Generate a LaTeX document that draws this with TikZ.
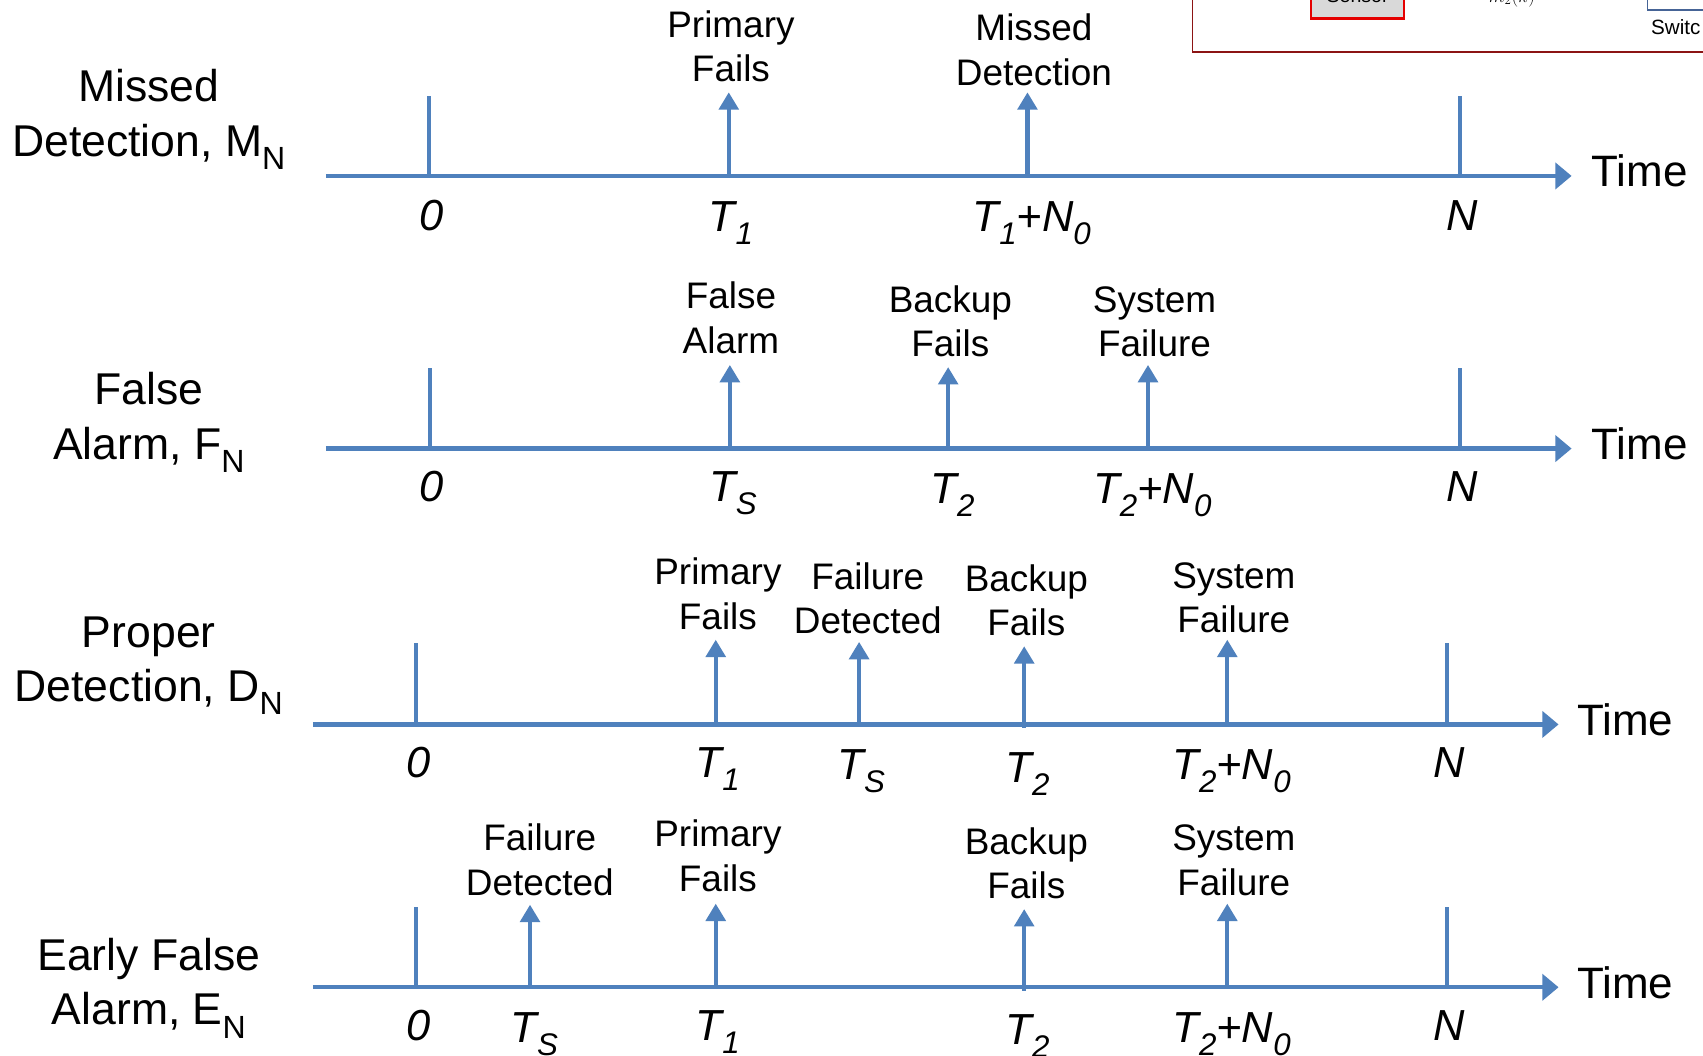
\documentclass[tikz,border=0pt]{standalone}
\usepackage{fontspec}
\setmainfont{Liberation Sans}
\usetikzlibrary{arrows.meta}
\definecolor{ax}{RGB}{79,129,189}
\definecolor{frame}{RGB}{140,20,20}
\definecolor{boxblue}{RGB}{70,100,150}
\newcommand\sbs[1]{\raisebox{-0.3em}{\scalebox{0.72}{#1}}}
\begin{document}
\begin{tikzpicture}[x=1pt,y=-1pt,
  axisline/.style={draw=ax, line width=4pt, -{Triangle[length=15pt,width=24pt]}},
  tickline/.style={draw=ax, line width=4pt},
  evt/.style={draw=ax, line width=3.8pt, -{Triangle[length=16pt,width=18pt]}},
  evlab/.style={align=center, font=\fontsize{34}{41}\selectfont, inner sep=0, anchor=south},
  tlab/.style={font=\fontsize{40}{48}\selectfont\itshape, inner sep=0, anchor=base},
  rowlab/.style={align=center, font=\fontsize{41}{50}\selectfont, inner sep=0},
  timelab/.style={font=\fontsize{40.5}{48}\selectfont, inner sep=0, anchor=base west}]
\clip (0,0) rectangle (1568,972);
\fill[white] (0,0) rectangle (1568,972);

% fragment of another figure, top right
\draw[draw=frame, line width=1.5pt] (1098,-20) -- (1098,48) -- (1600,48);
\draw[draw=red!90!black, fill=gray!30, line width=2pt] (1207,-40) rectangle (1293,17);
\node[font=\fontsize{18}{20}\selectfont, inner sep=0, anchor=base] (sens) at (1250,2.5) {Sensor};
\node[font=\fontsize{18}{20}\selectfont, inner sep=0, anchor=base] (mk) at (1392,2) {$m_2(k)$};
\draw[draw=boxblue, line width=1.5pt] (1517,-20) -- (1517,9) -- (1600,9);
\node[font=\fontsize{19}{20}\selectfont, inner sep=0, anchor=base west] (sw) at (1520,32) {Switc};

% ---------- Row 1: Missed Detection ----------
\node[rowlab] (r1) at (137,110) {Missed\\Detection, M\sbs{N}};
\coordinate (a1s) at (300,162); \coordinate (a1e) at (1447,162);
\draw[axisline] (a1s) -- (a1e);
\coordinate (r1z) at (395,162); \coordinate (r1zt) at (395,88);
\draw[tickline] (r1z) -- (r1zt);
\coordinate (r1n) at (1344,162); \coordinate (r1nt) at (1344,88);
\draw[tickline] (r1n) -- (r1nt);
\coordinate (r1a) at (671,162); \coordinate (r1at) at (671,85);
\draw[evt] (r1a) -- (r1at);
\coordinate (r1b) at (946,162); \coordinate (r1bt) at (946,85);
\draw[evt] (r1b) -- (r1bt);
\node[evlab] (e11) at (673,76) {Primary\\Fails};
\node[evlab] (e12) at (952,79) {Missed\\Detection};
\node[tlab] (l10) at (397,212) {0};
\node[tlab] (l11) at (673,213) {T\sbs{1}};
\node[tlab] (l12) at (950,213) {T\sbs{1}+N\sbs{0}};
\node[tlab] (l13) at (1346,212) {N};
\node[timelab] (t1) at (1465,172) {Time};

% ---------- Row 2: False Alarm ----------
\node[rowlab] (r2) at (137,389) {False\\Alarm, F\sbs{N}};
\coordinate (a2s) at (300,413); \coordinate (a2e) at (1447,413);
\draw[axisline] (a2s) -- (a2e);
\coordinate (r2z) at (396,413); \coordinate (r2zt) at (396,339);
\draw[tickline] (r2z) -- (r2zt);
\coordinate (r2n) at (1344,413); \coordinate (r2nt) at (1344,339);
\draw[tickline] (r2n) -- (r2nt);
\coordinate (r2a) at (672,413); \coordinate (r2at) at (672,336);
\draw[evt] (r2a) -- (r2at);
\coordinate (r2b) at (873,413); \coordinate (r2bt) at (873,338);
\draw[evt] (r2b) -- (r2bt);
\coordinate (r2c) at (1057,413); \coordinate (r2ct) at (1057,336);
\draw[evt] (r2c) -- (r2ct);
\node[evlab] (e21) at (673,326) {False\\Alarm};
\node[evlab] (e22) at (875,329) {Backup\\Fails};
\node[evlab] (e23) at (1063,329) {System\\Failure};
\node[tlab] (l20) at (397,462) {0};
\node[tlab] (l21) at (675,462) {T\sbs{S}};
\node[tlab] (l22) at (877,464) {T\sbs{2}};
\node[tlab] (l23) at (1061,464) {T\sbs{2}+N\sbs{0}};
\node[tlab] (l24) at (1346,462) {N};
\node[timelab] (t2) at (1465,423) {Time};

% ---------- Row 3: Proper Detection ----------
\node[rowlab] (r3) at (137,613) {Proper\\Detection, D\sbs{N}};
\coordinate (a3s) at (288,667); \coordinate (a3e) at (1435,667);
\draw[axisline] (a3s) -- (a3e);
\coordinate (r3z) at (383,667); \coordinate (r3zt) at (383,592);
\draw[tickline] (r3z) -- (r3zt);
\coordinate (r3n) at (1332,667); \coordinate (r3nt) at (1332,592);
\draw[tickline] (r3n) -- (r3nt);
\coordinate (r3a) at (659,667); \coordinate (r3at) at (659,589);
\draw[evt] (r3a) -- (r3at);
\coordinate (r3b) at (791,667); \coordinate (r3bt) at (791,591);
\draw[evt] (r3b) -- (r3bt);
\coordinate (r3c) at (943,670); \coordinate (r3ct) at (943,595);
\draw[evt] (r3c) -- (r3ct);
\coordinate (r3d) at (1130,667); \coordinate (r3dt) at (1130,589);
\draw[evt] (r3d) -- (r3dt);
\node[evlab] (e31) at (661,580) {Primary\\Fails};
\node[evlab] (e32) at (799,584) {Failure\\Detected};
\node[evlab] (e33) at (945,586) {Backup\\Fails};
\node[evlab] (e34) at (1136,583) {System\\Failure};
\node[tlab] (l30) at (385,716) {0};
\node[tlab] (l31) at (661,716) {T\sbs{1}};
\node[tlab] (l32) at (793,718) {T\sbs{S}};
\node[tlab] (l33) at (946,720) {T\sbs{2}};
\node[tlab] (l34) at (1134,718) {T\sbs{2}+N\sbs{0}};
\node[tlab] (l35) at (1334,716) {N};
\node[timelab] (t3) at (1452,677) {Time};

% ---------- Row 4: Early False Alarm ----------
\node[rowlab] (r4) at (137,910) {Early False\\Alarm, E\sbs{N}};
\coordinate (a4s) at (288,909); \coordinate (a4e) at (1435,909);
\draw[axisline] (a4s) -- (a4e);
\coordinate (r4z) at (383,909); \coordinate (r4zt) at (383,835);
\draw[tickline] (r4z) -- (r4zt);
\coordinate (r4n) at (1332,909); \coordinate (r4nt) at (1332,835);
\draw[tickline] (r4n) -- (r4nt);
\coordinate (r4a) at (488,909); \coordinate (r4at) at (488,833);
\draw[evt] (r4a) -- (r4at);
\coordinate (r4b) at (659,909); \coordinate (r4bt) at (659,832);
\draw[evt] (r4b) -- (r4bt);
\coordinate (r4c) at (943,912); \coordinate (r4ct) at (943,837);
\draw[evt] (r4c) -- (r4ct);
\coordinate (r4d) at (1130,909); \coordinate (r4dt) at (1130,832);
\draw[evt] (r4d) -- (r4dt);
\node[evlab] (e41) at (497,825) {Failure\\Detected};
\node[evlab] (e42) at (661,821) {Primary\\Fails};
\node[evlab] (e43) at (945,828) {Backup\\Fails};
\node[evlab] (e44) at (1136,825) {System\\Failure};
\node[tlab] (l40) at (385,958) {0};
\node[tlab] (l41) at (492,960) {T\sbs{S}};
\node[tlab] (l42) at (661,958) {T\sbs{1}};
\node[tlab] (l43) at (946,962) {T\sbs{2}};
\node[tlab] (l44) at (1134,960) {T\sbs{2}+N\sbs{0}};
\node[tlab] (l45) at (1334,958) {N};
\node[timelab] (t4) at (1452,919) {Time};
\end{tikzpicture}
\end{document}
